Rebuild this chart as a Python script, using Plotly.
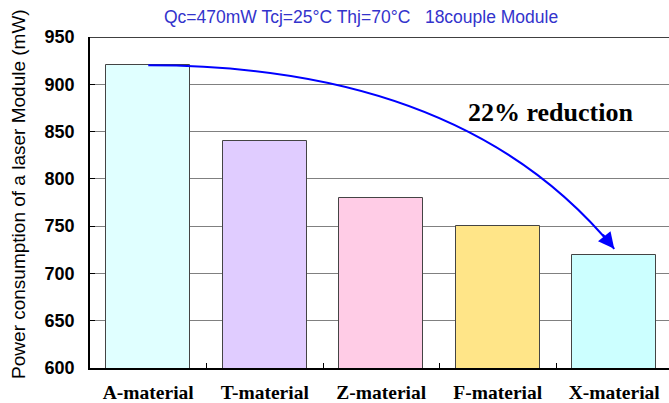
import plotly.graph_objects as go

categories = ["A-material", "T-material", "Z-material", "F-material", "X-material"]
power_mw = [920, 840, 780, 750, 720]
bar_colors = ["#E0FFFF", "#E0CCFF", "#FFCCE6", "#FFE588", "#CCFFFF"]
y_ticks = [600, 650, 700, 750, 800, 850, 900, 950]
title_text = "Qc=470mW Tcj=25°C Thj=70°C   18couple Module"
reduction_text = "22% reduction"

x_pos = list(range(len(categories)))

fig = go.Figure()
fig.add_trace(go.Bar(
    x=x_pos, y=power_mw, width=0.72,
    marker=dict(color=bar_colors, line=dict(color="#444444", width=1)),
    showlegend=False, hoverinfo="skip",
))

# curved arrow from A top to above X
y0 = power_mw[0]
y_end = 726
ctrl_x = 2.71
fig.add_shape(type="path", xref="x", yref="y",
              path=f"M 0,{y0} Q {ctrl_x},{y0} 4,{y_end}",
              line=dict(color="#0000FF", width=2), layer="above")
fig.add_annotation(x=4, y=y_end, ax=3.893, ay=742.5, axref="x", ayref="y",
                   xref="x", yref="y", text="", showarrow=True,
                   arrowhead=2, arrowsize=1.6, arrowwidth=2, arrowcolor="#0000FF",
                   standoff=0)

fig.add_annotation(x=3.45, y=870.7, xref="x", yref="y", text=reduction_text,
                   showarrow=False,
                   font=dict(family="Liberation Serif", size=26, color="#000000", weight="bold"))

fig.add_annotation(x=(361 - 90) / 579, y=1, yref="paper", xref="paper",
                   xanchor="center", yanchor="middle",
                   yshift=20, text=title_text, showarrow=False,
                   font=dict(family="Liberation Sans", size=17.5, color="#3333CC"))

fig.add_annotation(x=(19 - 90) / 579, y=0.526, xref="paper", yref="paper",
                   xanchor="center", yanchor="middle",
                   text="Power consumption of a laser Module (mW)", textangle=-90,
                   showarrow=False,
                   font=dict(family="Liberation Sans", size=19, color="#000000"))

# top border
fig.add_shape(type="line", xref="paper", yref="y", x0=0, x1=1, y0=950, y1=950,
              line=dict(color="#000000", width=1.5))

fig.update_layout(
    width=669, height=403,
    margin=dict(l=90, r=0, t=37, b=35, autoexpand=False),
    paper_bgcolor="white", plot_bgcolor="white",
    xaxis=dict(
        range=[-0.5, 4.47], tickvals=x_pos, ticktext=categories, automargin=False,
        ticks="", showgrid=False, showline=True, linecolor="#000000", linewidth=1.5,
        tickfont=dict(family="Liberation Serif", size=19.5, color="#000000", weight="bold"),
        ticklabelstandoff=6,
        minor=dict(tickvals=[0.5, 1.5, 2.5, 3.5], ticks="inside", ticklen=5,
                   tickcolor="#000000", tickwidth=1, showgrid=False),
        zeroline=False,
    ),
    yaxis=dict(
        range=[600, 950], tickvals=y_ticks, ticks="inside", ticklen=5, automargin=False,
        tickcolor="#000000", showgrid=True, gridcolor="#808080", gridwidth=1,
        showline=True, linecolor="#000000", linewidth=1.5,
        tickfont=dict(family="Liberation Sans", size=18, color="#000000", weight="bold"),
        ticklabelstandoff=10, zeroline=False,
    ),
    bargap=0,
)

fig.write_html("out.html", post_script="document.body.style.margin='0';",
               config={"displayModeBar": False})
